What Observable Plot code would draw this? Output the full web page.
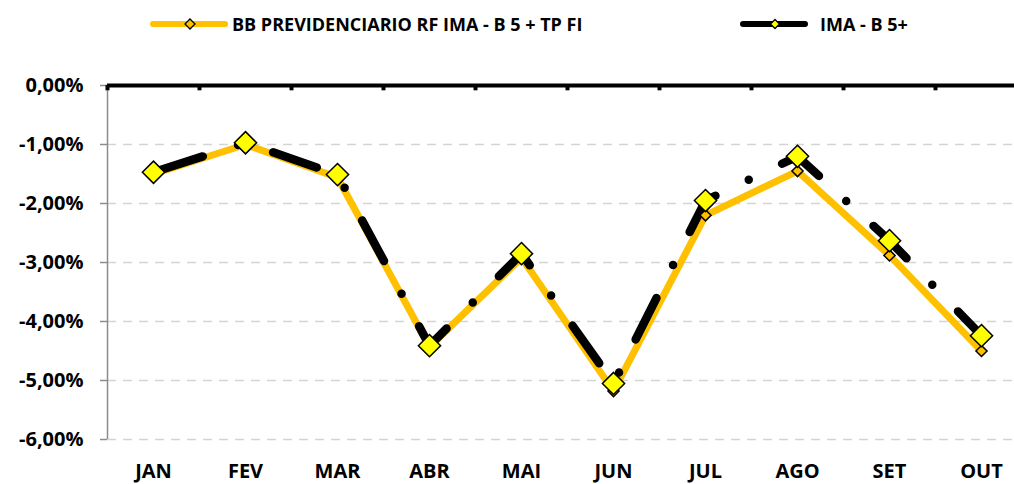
<!DOCTYPE html>
<html><head><meta charset="utf-8">
<script src="https://cdn.jsdelivr.net/npm/d3@7"></script>
<script src="https://cdn.jsdelivr.net/npm/@observablehq/plot@0.6"></script>
<style>
body{margin:0;background:#fff;font-family:"Open Sans", sans-serif;}
#legend{position:relative;height:48px;width:1014px;font-weight:bold;font-size:18px;color:#000;}
.item{position:absolute;top:0;height:48px;display:flex;align-items:center;white-space:nowrap;}
</style></head><body>
<div id="legend"></div><div id="chart"></div>
<script>
const months = ["JAN","FEV","MAR","ABR","MAI","JUN","JUL","AGO","SET","OUT"];
const bbFund = [-1.50,-1.00,-1.56,-4.43,-2.92,-5.18,-2.20,-1.45,-2.88,-4.50];
const imaB5 = [-1.47,-0.97,-1.51,-4.41,-2.85,-5.05,-1.95,-1.20,-2.63,-4.24];
const yTicks = [0,-1,-2,-3,-4,-5,-6];
const seriesNames = ["BB PREVIDENCIARIO RF IMA - B 5 + TP FI","IMA - B 5+"];

// legend
const legendItems = [
  {label: seriesNames[0], left: 149, line: "#FFC000", len: 72, marker: "#FFC000", mr: 5, gap: 3},
  {label: seriesNames[1], left: 739, line: "#000000", len: 62, marker: "#FFFF00", mr: 4.5, gap: 11}
];
const leg = d3.select("#legend");
for (const it of legendItems) {
  const div = leg.append("div").attr("class","item").style("left", it.left + "px");
  const w = it.len + 8;
  const svg = div.append("svg").attr("width", w).attr("height", 16).style("margin-right", it.gap + "px");
  svg.append("line").attr("x1",4).attr("x2",w-4).attr("y1",8).attr("y2",8)
    .attr("stroke", it.line).attr("stroke-width",6).attr("stroke-linecap","round");
  const c = w/2 + 1, r = it.mr;
  svg.append("polygon").attr("points", `${c},${8-r} ${c+r},8 ${c},${8+r} ${c-r},8`)
    .attr("fill", it.marker).attr("stroke","#000").attr("stroke-width",1.3);
  div.append("span").text(it.label);
}

const W = 1014, H = 436, mL = 107, mR = -13;
const step = (W - mL - mR) / months.length;
const fmt = d => d.toFixed(2).replace(".", ",") + "%";
const rows = months.map((m, i) => ({month: m, bb: bbFund[i], ima: imaB5[i]}));

const chart = Plot.plot({
  width: W, height: H,
  marginLeft: mL, marginRight: mR, marginTop: 37, marginBottom: 45,
  x: {type: "point", domain: months, padding: 0.5},
  y: {domain: [-6, 0]},
  style: {fontFamily: "'Open Sans', sans-serif", fontWeight: "bold", fontSize: "20px", color: "#000", overflow: "visible", background: "#fff"},
  marks: [
    Plot.ruleY(yTicks.filter(d => d < 0), {stroke: "#d4d4d4", strokeWidth: 1.5, strokeDasharray: "9,7"}),
    Plot.ruleX([months[0]], {y1: -6, y2: 0, dx: -step/2, stroke: "#8c8c8c", strokeWidth: 1.5}),
    Plot.axisY({ticks: yTicks, tickFormat: fmt, tickSize: 7, tickPadding: 17, stroke: "#8c8c8c", strokeWidth: 1.5, label: null}),
    Plot.axisX({tickSize: 0, tickPadding: 24, label: null}),
    Plot.ruleY([0], {stroke: "#000", strokeWidth: 4}),
    Plot.ruleX(months, {y1: 0, y2: -0.09, dx: -step/2, stroke: "#000", strokeWidth: 4}),
    Plot.line(rows, {x: "month", y: "bb", stroke: "#FFC000", strokeWidth: 7, strokeLinejoin: "round"}),
    Plot.line(rows, {x: "month", y: "ima", stroke: "#000", strokeWidth: 8.5, strokeDasharray: "46.2,37,0,37", strokeDashoffset: 114.6, strokeLinecap: "round", strokeLinejoin: "round"}),
    Plot.dot(rows, {x: "month", y: "bb", symbol: "diamond2", r: 5, fill: "#FFC000", stroke: "#000", strokeWidth: 1.5}),
    Plot.dot(rows, {x: "month", y: "ima", symbol: "diamond2", r: 10, fill: "#FFFF00", stroke: "#000", strokeWidth: 1.5})
  ]
});
document.getElementById("chart").appendChild(chart);
</script>
</body></html>
